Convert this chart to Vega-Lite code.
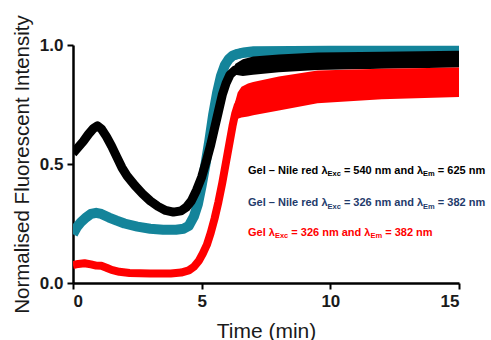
{
  "$schema": "https://vega.github.io/schema/vega-lite/v6.json",
  "width": 386,
  "height": 238,
  "autosize": {"type": "none"},
  "padding": {"left": 73, "top": 45, "right": 32, "bottom": 57},
  "background": "white",
  "config": {
    "view": {"stroke": null},
    "axis": {
      "grid": false,
      "domainColor": "#000000",
      "domainWidth": 2.5,
      "tickColor": "#000000",
      "tickWidth": 2,
      "tickSize": 6,
      "labelFont": "Liberation Sans",
      "labelFontWeight": "bold",
      "labelFontSize": 17,
      "labelColor": "#1a1a1a",
      "titleFont": "Liberation Sans",
      "titleFontWeight": "normal",
      "titleFontSize": 20,
      "titleColor": "#1a1a1a"
    }
  },
  "datasets": {
    "curves": [
      {"s": "teal", "t": 0, "v": 0.205}, {"s": "teal", "t": 0.15, "v": 0.235}, {"s": "teal", "t": 0.3, "v": 0.255},
      {"s": "teal", "t": 0.5, "v": 0.275}, {"s": "teal", "t": 0.7, "v": 0.29}, {"s": "teal", "t": 0.9, "v": 0.295},
      {"s": "teal", "t": 1.1, "v": 0.29}, {"s": "teal", "t": 1.4, "v": 0.275}, {"s": "teal", "t": 1.7, "v": 0.262},
      {"s": "teal", "t": 2.0, "v": 0.25}, {"s": "teal", "t": 2.5, "v": 0.237}, {"s": "teal", "t": 3.0, "v": 0.228},
      {"s": "teal", "t": 3.5, "v": 0.224}, {"s": "teal", "t": 4.0, "v": 0.224}, {"s": "teal", "t": 4.3, "v": 0.228},
      {"s": "teal", "t": 4.5, "v": 0.24}, {"s": "teal", "t": 4.7, "v": 0.28}, {"s": "teal", "t": 4.85, "v": 0.33},
      {"s": "teal", "t": 5.0, "v": 0.41}, {"s": "teal", "t": 5.15, "v": 0.5}, {"s": "teal", "t": 5.3, "v": 0.6},
      {"s": "teal", "t": 5.45, "v": 0.71}, {"s": "teal", "t": 5.6, "v": 0.8}, {"s": "teal", "t": 5.75, "v": 0.87},
      {"s": "teal", "t": 5.9, "v": 0.915}, {"s": "teal", "t": 6.05, "v": 0.94}, {"s": "teal", "t": 6.2, "v": 0.955},
      {"s": "teal", "t": 6.4, "v": 0.963}, {"s": "teal", "t": 6.6, "v": 0.968},
      {"s": "black", "t": 0, "v": 0.545}, {"s": "black", "t": 0.2, "v": 0.57}, {"s": "black", "t": 0.4, "v": 0.595},
      {"s": "black", "t": 0.6, "v": 0.625}, {"s": "black", "t": 0.8, "v": 0.65}, {"s": "black", "t": 0.95, "v": 0.66},
      {"s": "black", "t": 1.1, "v": 0.648}, {"s": "black", "t": 1.3, "v": 0.615}, {"s": "black", "t": 1.5, "v": 0.575},
      {"s": "black", "t": 1.7, "v": 0.53}, {"s": "black", "t": 1.9, "v": 0.485}, {"s": "black", "t": 2.1, "v": 0.45},
      {"s": "black", "t": 2.4, "v": 0.41}, {"s": "black", "t": 2.7, "v": 0.375}, {"s": "black", "t": 3.0, "v": 0.345},
      {"s": "black", "t": 3.3, "v": 0.322}, {"s": "black", "t": 3.6, "v": 0.305}, {"s": "black", "t": 3.9, "v": 0.298},
      {"s": "black", "t": 4.2, "v": 0.303}, {"s": "black", "t": 4.4, "v": 0.318}, {"s": "black", "t": 4.6, "v": 0.345},
      {"s": "black", "t": 4.8, "v": 0.39}, {"s": "black", "t": 5.0, "v": 0.445}, {"s": "black", "t": 5.2, "v": 0.52},
      {"s": "black", "t": 5.35, "v": 0.58}, {"s": "black", "t": 5.5, "v": 0.65}, {"s": "black", "t": 5.65, "v": 0.72},
      {"s": "black", "t": 5.8, "v": 0.79}, {"s": "black", "t": 5.95, "v": 0.84}, {"s": "black", "t": 6.1, "v": 0.875},
      {"s": "black", "t": 6.3, "v": 0.895}, {"s": "black", "t": 6.5, "v": 0.905}, {"s": "black", "t": 6.7, "v": 0.91},
      {"s": "red", "t": 0, "v": 0.075}, {"s": "red", "t": 0.2, "v": 0.08}, {"s": "red", "t": 0.45, "v": 0.083},
      {"s": "red", "t": 0.7, "v": 0.078}, {"s": "red", "t": 0.9, "v": 0.073}, {"s": "red", "t": 1.1, "v": 0.072},
      {"s": "red", "t": 1.3, "v": 0.064}, {"s": "red", "t": 1.5, "v": 0.055}, {"s": "red", "t": 1.8, "v": 0.047},
      {"s": "red", "t": 2.2, "v": 0.042}, {"s": "red", "t": 3.0, "v": 0.04}, {"s": "red", "t": 3.8, "v": 0.04},
      {"s": "red", "t": 4.2, "v": 0.044}, {"s": "red", "t": 4.5, "v": 0.053}, {"s": "red", "t": 4.7, "v": 0.068},
      {"s": "red", "t": 4.9, "v": 0.095}, {"s": "red", "t": 5.05, "v": 0.125}, {"s": "red", "t": 5.2, "v": 0.16},
      {"s": "red", "t": 5.35, "v": 0.21}, {"s": "red", "t": 5.5, "v": 0.27}, {"s": "red", "t": 5.65, "v": 0.34},
      {"s": "red", "t": 5.8, "v": 0.42}, {"s": "red", "t": 5.95, "v": 0.51}, {"s": "red", "t": 6.1, "v": 0.6},
      {"s": "red", "t": 6.2, "v": 0.66}, {"s": "red", "t": 6.3, "v": 0.71}, {"s": "red", "t": 6.4, "v": 0.745},
      {"s": "red", "t": 6.5, "v": 0.765}
    ],
    "bands": [
      {"s": "teal", "t": 6.2, "v": 0.935, "v2": 0.975}, {"s": "teal", "t": 6.6, "v": 0.945, "v2": 0.99},
      {"s": "teal", "t": 7, "v": 0.95, "v2": 0.995}, {"s": "teal", "t": 10, "v": 0.955, "v2": 0.997},
      {"s": "teal", "t": 15, "v": 0.955, "v2": 0.997},
      {"s": "black", "t": 6.3, "v": 0.875, "v2": 0.92}, {"s": "black", "t": 6.6, "v": 0.87, "v2": 0.94},
      {"s": "black", "t": 7, "v": 0.875, "v2": 0.952}, {"s": "black", "t": 8, "v": 0.885, "v2": 0.96},
      {"s": "black", "t": 9.5, "v": 0.895, "v2": 0.968}, {"s": "black", "t": 12, "v": 0.9, "v2": 0.972},
      {"s": "black", "t": 15, "v": 0.905, "v2": 0.976},
      {"s": "red", "t": 6.3, "v": 0.68, "v2": 0.76}, {"s": "red", "t": 6.4, "v": 0.69, "v2": 0.8},
      {"s": "red", "t": 6.55, "v": 0.695, "v2": 0.825}, {"s": "red", "t": 6.8, "v": 0.7, "v2": 0.838},
      {"s": "red", "t": 7, "v": 0.705, "v2": 0.845}, {"s": "red", "t": 8, "v": 0.725, "v2": 0.868},
      {"s": "red", "t": 9.5, "v": 0.755, "v2": 0.893}, {"s": "red", "t": 12, "v": 0.772, "v2": 0.9},
      {"s": "red", "t": 15, "v": 0.782, "v2": 0.905}
    ],
    "labels": [
      {"c": "k", "t": 6.801, "v": 0.458, "txt": "Gel – Nile red λ"},
      {"c": "k", "t": 10.527, "v": 0.458, "txt": "= 540 nm and λ"},
      {"c": "k", "t": 14.178, "v": 0.458, "txt": "= 625 nm"},
      {"c": "b", "t": 6.801, "v": 0.3235, "txt": "Gel – Nile red λ"},
      {"c": "b", "t": 10.527, "v": 0.3235, "txt": "= 326 nm and λ"},
      {"c": "b", "t": 14.178, "v": 0.3235, "txt": "= 382 nm"},
      {"c": "r", "t": 6.801, "v": 0.1975, "txt": "Gel λ"},
      {"c": "r", "t": 8.483, "v": 0.1975, "txt": "= 326 nm and λ"},
      {"c": "r", "t": 12.133, "v": 0.1975, "txt": "= 382 nm"}
    ],
    "subs": [
      {"c": "k", "t": 9.891, "v": 0.4475, "txt": "Exc"},
      {"c": "k", "t": 13.603, "v": 0.4475, "txt": "Em"},
      {"c": "b", "t": 9.891, "v": 0.313, "txt": "Exc"},
      {"c": "b", "t": 13.603, "v": 0.313, "txt": "Em"},
      {"c": "r", "t": 7.847, "v": 0.187, "txt": "Exc"},
      {"c": "r", "t": 11.559, "v": 0.187, "txt": "Em"}
    ]
  },
  "encoding": {
    "x": {
      "field": "t", "type": "quantitative",
      "scale": {"domain": [0, 15], "nice": false, "zero": false},
      "axis": {"values": [0, 5, 10, 15], "format": "d", "title": "Time (min)", "labelPadding": 4, "titlePadding": 11, "titleFontSize": 21}
    },
    "y": {
      "field": "v", "type": "quantitative",
      "scale": {"domain": [0, 1], "nice": false},
      "axis": {"values": [0, 0.5, 1], "format": ".1f", "title": "Normalised Fluorescent Intensity", "labelPadding": 4, "titlePadding": 7, "titleFontSize": 20.5}
    }
  },
  "layer": [
    {"data": {"name": "curves"}, "transform": [{"filter": "datum.s === 'teal'"}],
     "mark": {"type": "line", "color": "#14849a", "strokeWidth": 10, "strokeCap": "butt", "strokeJoin": "round", "clip": true}, "encoding": {}},
    {"data": {"name": "bands"}, "transform": [{"filter": "datum.s === 'teal'"}],
     "mark": {"type": "area", "color": "#14849a", "opacity": 1, "clip": true}, "encoding": {"y2": {"field": "v2"}}},
    {"data": {"name": "curves"}, "transform": [{"filter": "datum.s === 'black'"}],
     "mark": {"type": "line", "color": "#000000", "strokeWidth": 9, "strokeCap": "butt", "strokeJoin": "round", "clip": true}, "encoding": {}},
    {"data": {"name": "bands"}, "transform": [{"filter": "datum.s === 'black'"}],
     "mark": {"type": "area", "color": "#000000", "opacity": 1, "clip": true}, "encoding": {"y2": {"field": "v2"}}},
    {"data": {"name": "curves"}, "transform": [{"filter": "datum.s === 'red'"}],
     "mark": {"type": "line", "color": "#ff0000", "strokeWidth": 8, "strokeCap": "butt", "strokeJoin": "round", "clip": true}, "encoding": {}},
    {"data": {"name": "bands"}, "transform": [{"filter": "datum.s === 'red'"}],
     "mark": {"type": "area", "color": "#ff0000", "opacity": 1, "clip": true}, "encoding": {"y2": {"field": "v2"}}},
    {"data": {"name": "labels"},
     "mark": {"type": "text", "align": "left", "baseline": "alphabetic", "font": "Liberation Sans", "fontWeight": "bold", "fontSize": 11},
     "encoding": {"text": {"field": "txt"},
       "color": {"field": "c", "type": "nominal", "scale": {"domain": ["k", "b", "r"], "range": ["#000000", "#1f3b6b", "#ff0000"]}, "legend": null}}},
    {"data": {"name": "subs"},
     "mark": {"type": "text", "align": "left", "baseline": "alphabetic", "font": "Liberation Sans", "fontWeight": "bold", "fontSize": 7.5},
     "encoding": {"text": {"field": "txt"},
       "color": {"field": "c", "type": "nominal", "scale": {"domain": ["k", "b", "r"], "range": ["#000000", "#1f3b6b", "#ff0000"]}, "legend": null}}}
  ]
}
